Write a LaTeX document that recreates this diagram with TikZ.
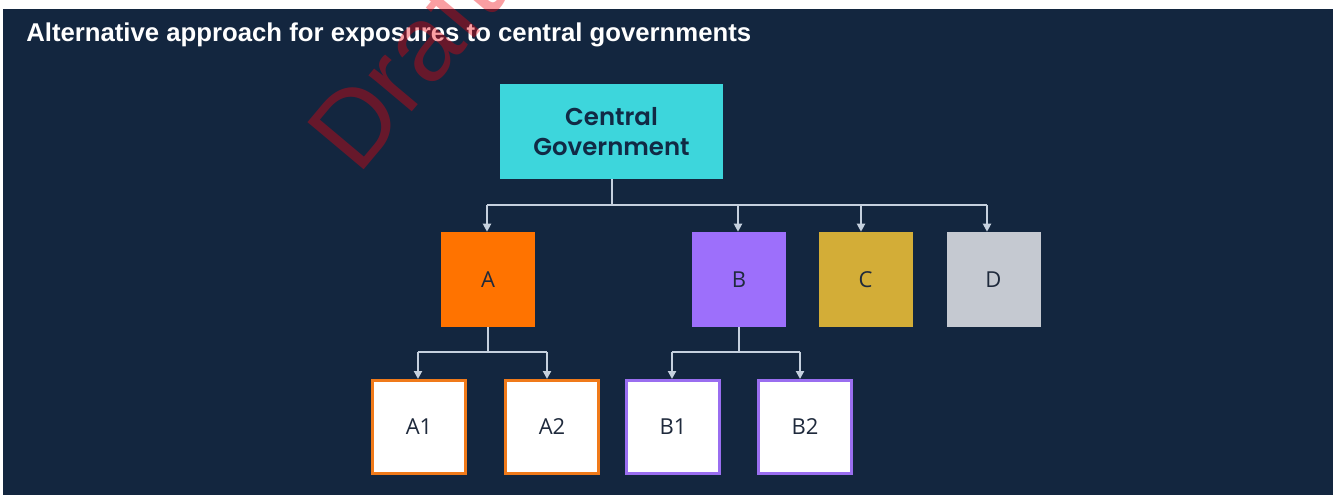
\documentclass[tikz,border=0pt]{standalone}
\usepackage{fontspec}
\setmainfont{Liberation Sans}
\newfontfamily\cgfont{Poppins SemiBold}
\newfontfamily\boxfont{Open Sans}
\usetikzlibrary{arrows.meta}
\definecolor{bg}{HTML}{13263F}
\definecolor{cgfill}{HTML}{3DD6DC}
\definecolor{cgtext}{HTML}{112A45}
\definecolor{aorange}{HTML}{FF7300}
\definecolor{bpurple}{HTML}{9D6FFB}
\definecolor{cgold}{HTML}{D3AD37}
\definecolor{dgrey}{HTML}{C5C9D1}
\definecolor{aborder}{HTML}{F07A1A}
\definecolor{bborder}{HTML}{9A6EF0}
\definecolor{boxtext}{HTML}{1F2A3C}
\definecolor{linec}{HTML}{C5D0DE}
\definecolor{wm}{RGB}{242,2,13}
\begin{document}
\begin{tikzpicture}[x=0.75pt,y=-0.75pt,
  box/.style={draw=none, minimum width=70.5pt, minimum height=71.25pt, inner sep=0pt,
    font=\boxfont\fontsize{16.5}{19}\selectfont, text=boxtext},
  sub/.style={fill=white, line width=2.25pt, minimum width=69.75pt, minimum height=69.75pt,
    inner sep=0pt, font=\boxfont\fontsize{16.5}{19}\selectfont, text=boxtext},
  conn/.style={draw=linec, line width=1.5pt},
  arr/.style={conn, -{Triangle[width=6pt,length=6pt]}}]
\useasboundingbox (0,0) rectangle (1333,495);
\fill[white] (0,0) rectangle (1333,495);
\fill[bg] (3,9) rectangle (1333,495);

\node[anchor=base west, text=white, inner sep=0pt,
  font=\bfseries\fontsize{19.3}{22}\selectfont] (title) at (26,42)
  {Alternative approach for exposures to central governments};

\node[fill=cgfill, minimum width=167.25pt, minimum height=71.25pt, inner sep=0pt,
  align=center, text=cgtext, font=\cgfont\fontsize{18.3}{22.5}\selectfont]
  (CG) at (611.5,131.5) {Central\\Government};

\node[box, fill=aorange] (A) at (488,279.5) {A};
\node[box, fill=bpurple] (B) at (739,279.5) {B};
\node[box, fill=cgold] (C) at (865.5,279.5) {C};
\node[box, fill=dgrey] (D) at (993.5,279.5) {D};

\node[sub, draw=aborder] (A1) at (419,427) {A1};
\node[sub, draw=aborder] (A2) at (552,427) {A2};
\node[sub, draw=bborder] (B1) at (673,427) {B1};
\node[sub, draw=bborder] (B2) at (805,427) {B2};

\coordinate (bA) at (487,205);
\coordinate (bB) at (738,205);
\coordinate (bC) at (861,205);
\coordinate (bD) at (987,205);
\draw[conn] (CG.south) -- (CG.south |- bA);
\draw[conn] (bA) -- (bD);
\draw[arr] (bA) -- (bA |- A.north);
\draw[arr] (bB) -- (bB |- B.north);
\draw[arr] (bC) -- (bC |- C.north);
\draw[arr] (bD) -- (bD |- D.north);

\coordinate (aL) at (418,352);
\coordinate (aR) at (547,352);
\draw[conn] (A.south) -- (A.south |- aL);
\draw[conn] (aL) -- (aR);
\draw[arr] (aL) -- (aL |- A1.north);
\draw[arr] (aR) -- (aR |- A2.north);

\coordinate (bL) at (672,352);
\coordinate (bR) at (800,352);
\draw[conn] (B.south) -- (B.south |- bL);
\draw[conn] (bL) -- (bR);
\draw[arr] (bL) -- (bL |- B1.north);
\draw[arr] (bR) -- (bR |- B2.north);

\node[rotate=50, anchor=base west, inner sep=0pt, text=wm, text opacity=0.38,
  font=\fontsize{80}{82}\selectfont] (wmk) at (358,177) {Draft};
\end{tikzpicture}
\end{document}
